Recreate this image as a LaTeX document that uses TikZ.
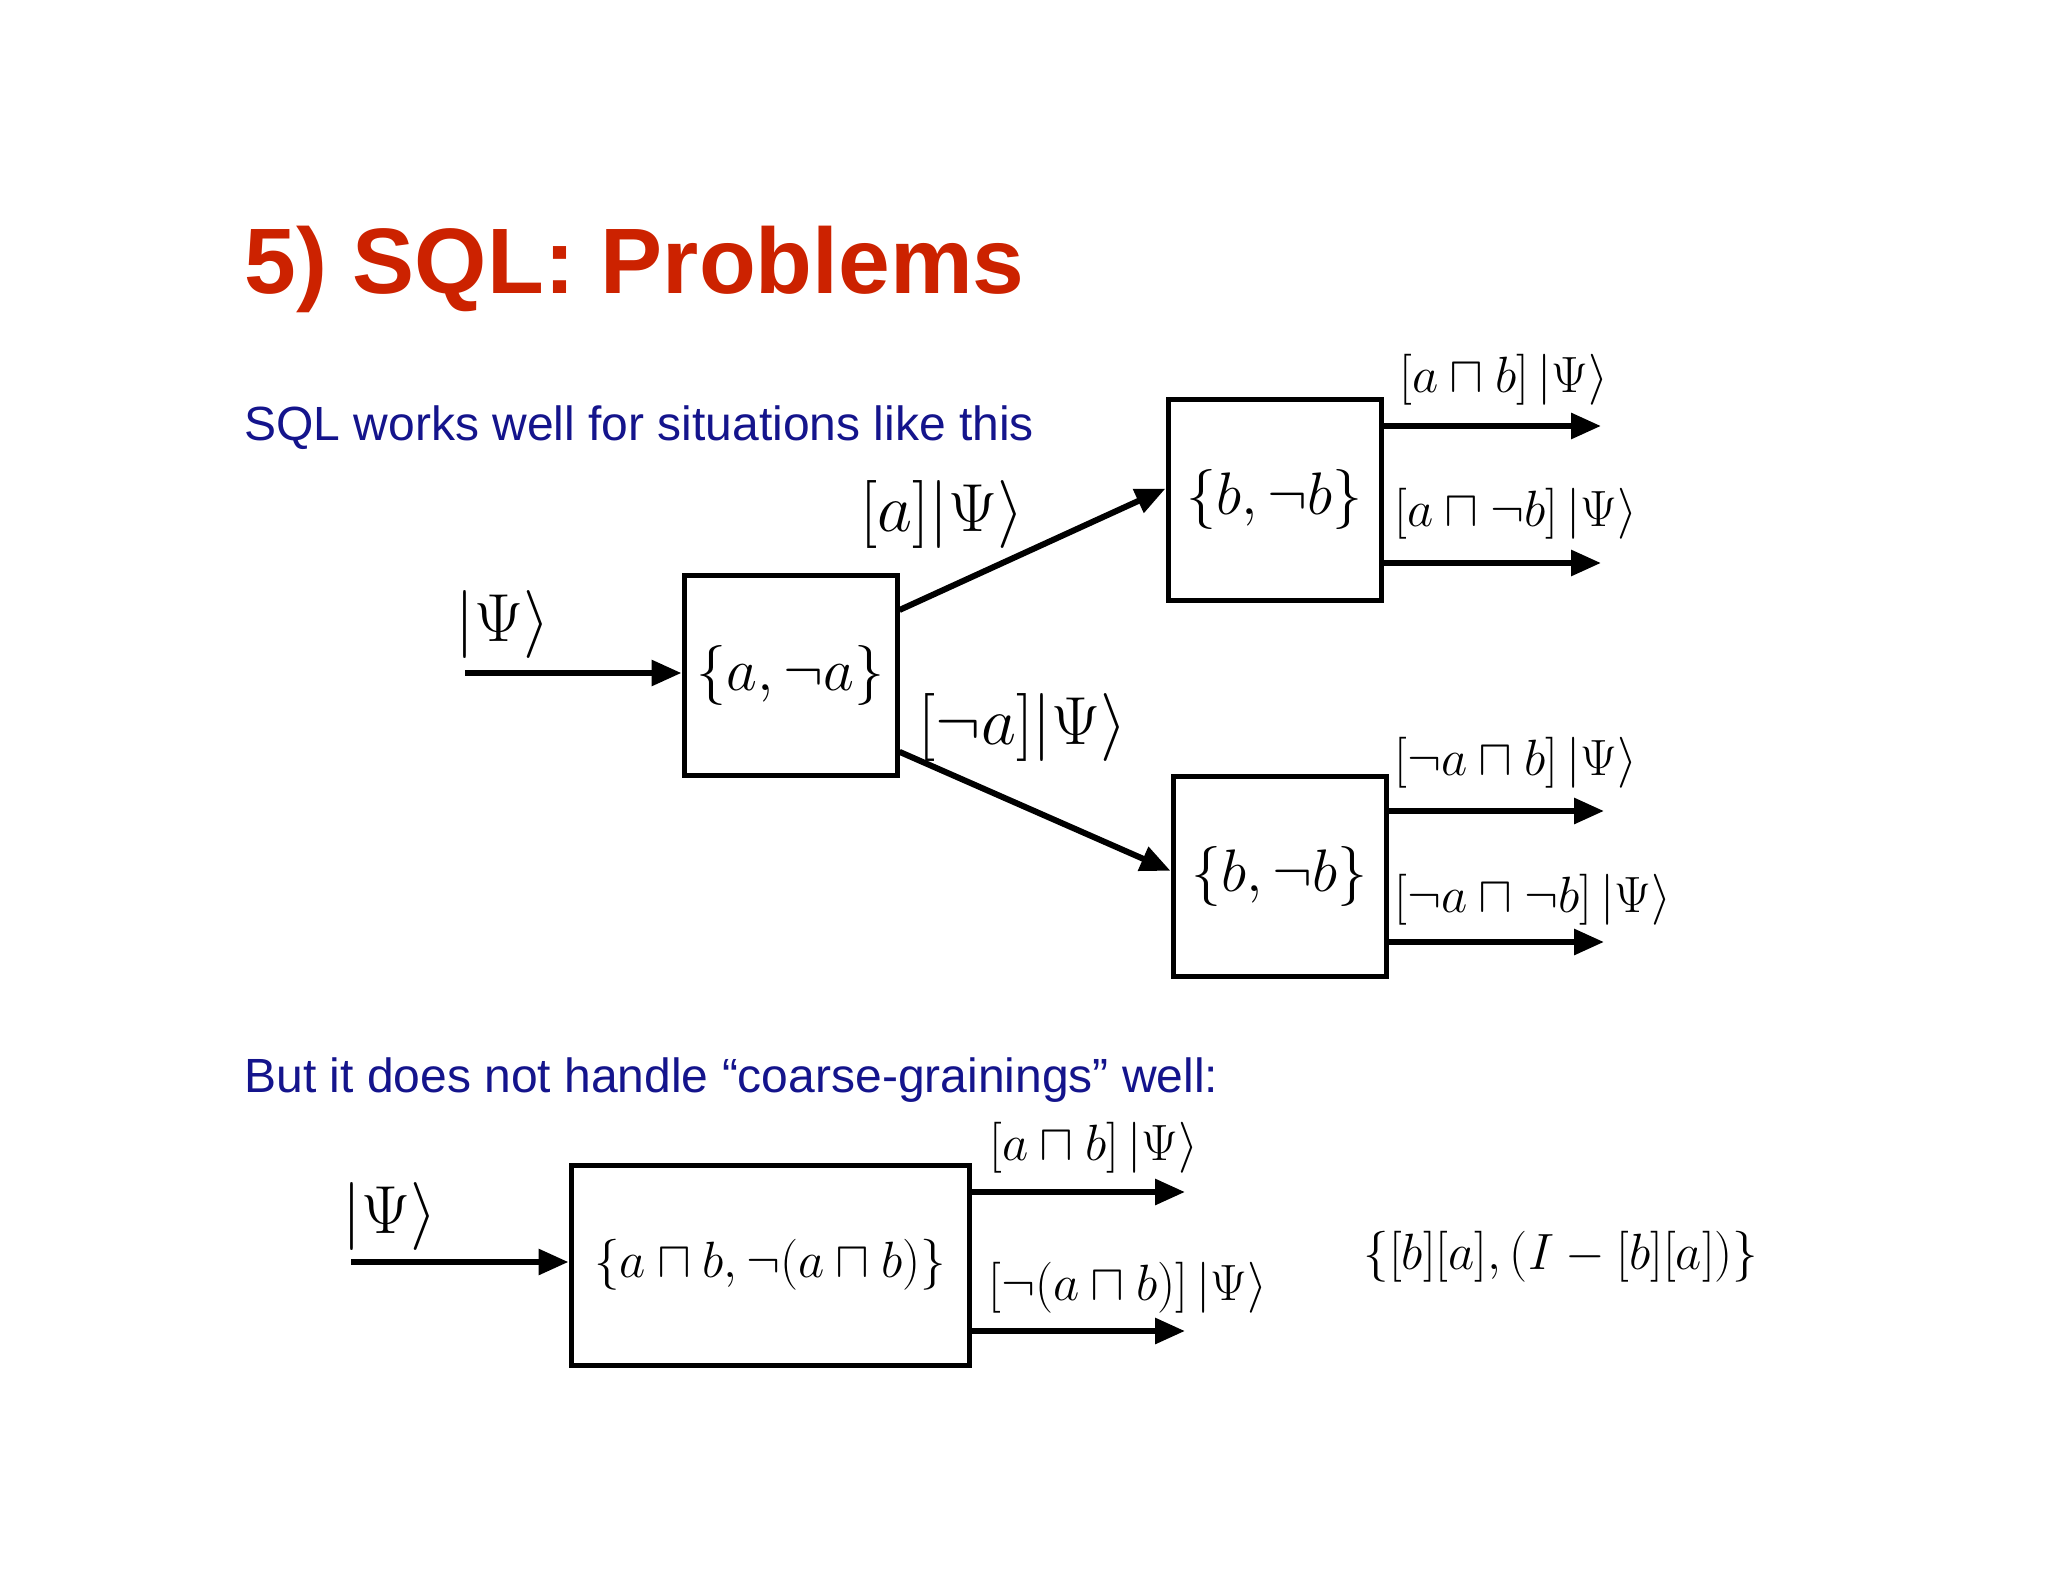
\RequirePackage{fix-cm}
\documentclass[tikz,border=0pt]{standalone}
\usepackage[no-math]{fontspec}
\setmainfont{Liberation Sans}
\usetikzlibrary{arrows.meta,calc}
\definecolor{titlered}{RGB}{204,34,0}
\definecolor{navy}{RGB}{20,20,140}
\begin{document}
\begin{tikzpicture}[x=0.5pt,y=-0.5pt,
  box/.style={draw,line width=2.5pt,minimum width=106.5pt,minimum height=100pt,inner sep=0pt},
  arr/.style={line width=3pt,-{Triangle[length=15pt,width=12.5pt]}},
  big/.style={inner sep=0pt,font=\fontsize{34}{40}\selectfont},
  boxtext/.style={font=\fontsize{30}{36}\selectfont},
  small/.style={inner sep=0pt,font=\fontsize{25.5}{30}\selectfont},
  body/.style={anchor=base west,inner sep=0pt,text=navy,font=\fontsize{24}{28}\selectfont}]
\useasboundingbox (0,0) rectangle (2048,1582);
\node[anchor=base west,inner sep=0pt,text=titlered,font=\fontsize{46.5}{50}\selectfont\bfseries] (title) at (244,294) {5) SQL: Problems};
\node[body] (t1) at (244,441) {SQL works well for situations like this};
\node[body] (t2) at (244,1092) {But it does not handle “coarse-grainings” well:};
% upper diagram
\node[box,boxtext] (A) at (790.5,675.5) {$\{a,\neg a\}$};
\node[box,boxtext] (B) at (1274.5,500) {$\{b,\neg b\}$};
\node[box,boxtext] (C) at (1279.5,876.5) {$\{b,\neg b\}$};
\coordinate (in1) at (465,673);
\draw[arr] (in1) -- (in1 -| A.west);
\node[big] (psi1) at (503,624) {$|\Psi\rangle$};
\draw[arr] (A.31.6) -- (B.174.6);
\draw[arr] (A.-35.3) -- (C.177.6);
\node[big] (la) at (942,515) {$[a]|\Psi\rangle$};
\node[big] (lna) at (1023,727) {$[\neg a]|\Psi\rangle$};
\coordinate (b1) at (1601,426);
\coordinate (b2) at (1601,563);
\coordinate (c1) at (1604,811);
\coordinate (c2) at (1604,942);
\draw[arr] (b1 -| B.east) -- (b1);
\draw[arr] (b2 -| B.east) -- (b2);
\draw[arr] (c1 -| C.east) -- (c1);
\draw[arr] (c2 -| C.east) -- (c2);
\node[small] (lb1) at (1504,380) {$[a\sqcap b]\,|\Psi\rangle$};
\node[small] (lb2) at (1516,514) {$[a\sqcap \neg b]\,|\Psi\rangle$};
\node[small] (lc1) at (1516,763) {$[\neg a\sqcap b]\,|\Psi\rangle$};
\node[small] (lc2) at (1533,900) {$[\neg a\sqcap \neg b]\,|\Psi\rangle$};
% lower diagram
\node[box,small,minimum width=199pt] (D) at (770,1265) {$\{a\sqcap b,\neg(a\sqcap b)\}$};
\coordinate (in2) at (351,1262);
\draw[arr] (in2) -- (in2 -| D.west);
\node[big] (psi2) at (390,1216) {$|\Psi\rangle$};
\coordinate (d1) at (1185,1192);
\coordinate (d2) at (1185,1331);
\draw[arr] (d1 -| D.east) -- (d1);
\draw[arr] (d2 -| D.east) -- (d2);
\node[small] (ld1) at (1094,1148) {$[a\sqcap b]\,|\Psi\rangle$};
\node[small] (ld2) at (1128,1288) {$[\neg(a\sqcap b)]\,|\Psi\rangle$};
\node[small] (set) at (1561,1257) {$\{[b][a],(I-[b][a])\}$};
\end{tikzpicture}
\end{document}
